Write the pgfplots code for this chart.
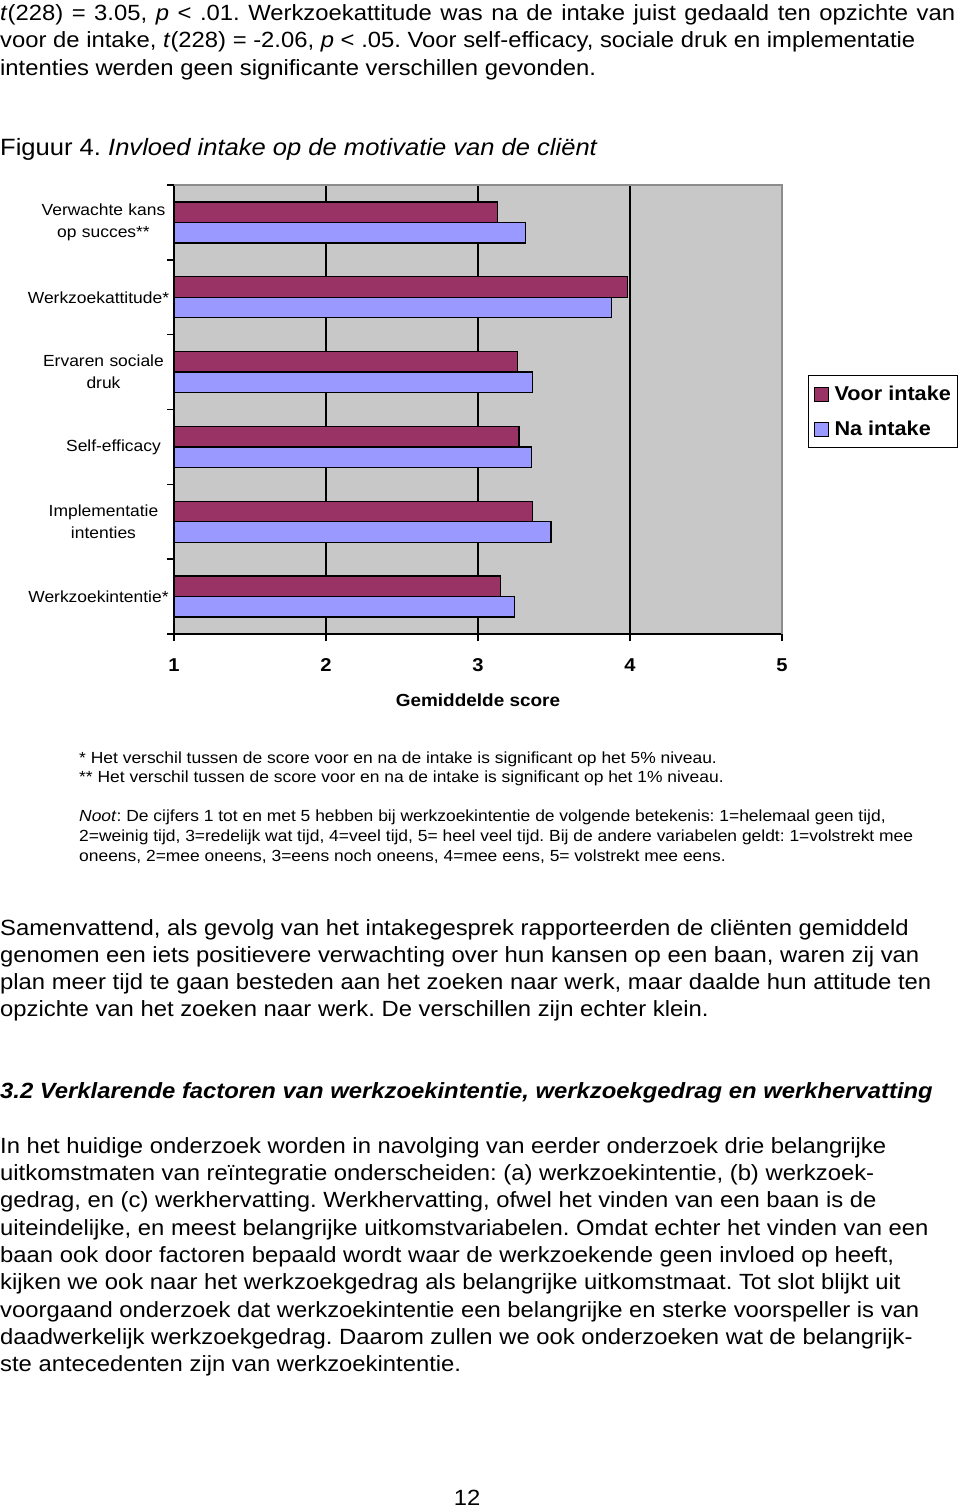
\documentclass[border=0pt]{standalone}
\usepackage{fontspec}
\setmainfont{Liberation Sans}[FakeStretch=1.083]
\usepackage{pgfplots}
\pgfplotsset{compat=1.18}
\definecolor{voor}{HTML}{993366}
\definecolor{na}{HTML}{9999FF}
\definecolor{plotbg}{HTML}{C8C8C8}
\definecolor{bordergray}{HTML}{8C8C8C}
\newcommand\body{\fontsize{22}{27.5}\selectfont}
\newcommand\notesize{\fontsize{16.1}{20}\selectfont}
\frenchspacing
\begin{document}
\frenchspacing
\begin{tikzpicture}
\useasboundingbox (0pt,0pt) rectangle (960pt,-1509pt);
\fill[white] (0pt,0pt) rectangle (960pt,-1509pt);
\begin{scope}[every node/.style={anchor=base west, inner sep=0pt}]
\node at (0pt,-20.5pt) {\body\makebox[955pt][s]{\textit{t}(228) = 3.05, \textit{p} < .01. Werkzoekattitude was na de intake juist gedaald ten opzichte van}};
\node at (0pt,-48pt) {\body voor de intake, \textit{t}(228) = -2.06, \textit{p} < .05. Voor self-efficacy, sociale druk en implementatie};
\node at (0pt,-75.5pt) {\body intenties werden geen significante verschillen gevonden.};
\node at (0pt,-155.5pt) {\fontsize{23.6}{28}\selectfont Figuur 4. \textit{Invloed intake op de motivatie van de cliënt}};
\node at (79pt,-763pt) {\notesize * Het verschil tussen de score voor en na de intake is significant op het 5\% niveau.};
\node at (79pt,-782pt) {\notesize ** Het verschil tussen de score voor en na de intake is significant op het 1\% niveau.};
\node at (79pt,-821pt) {\notesize \textit{Noot}: De cijfers 1 tot en met 5 hebben bij werkzoekintentie de volgende betekenis: 1=helemaal geen tijd,};
\node at (79pt,-841pt) {\notesize 2=weinig tijd, 3=redelijk wat tijd, 4=veel tijd, 5= heel veel tijd. Bij de andere variabelen geldt: 1=volstrekt mee};
\node at (79pt,-861pt) {\notesize oneens, 2=mee oneens, 3=eens noch oneens, 4=mee eens, 5= volstrekt mee eens.};
\node at (0pt,-935pt) {\body Samenvattend, als gevolg van het intakegesprek rapporteerden de cliënten gemiddeld};
\node at (0pt,-962pt) {\body genomen een iets positievere verwachting over hun kansen op een baan, waren zij van};
\node at (0pt,-989pt) {\body plan meer tijd te gaan besteden aan het zoeken naar werk, maar daalde hun attitude ten};
\node at (0pt,-1016pt) {\body opzichte van het zoeken naar werk. De verschillen zijn echter klein.};
\node at (0pt,-1098pt) {\body\bfseries\itshape 3.2 Verklarende factoren van werkzoekintentie, werkzoekgedrag en werkhervatting};
\node at (0pt,-1153pt) {\body In het huidige onderzoek worden in navolging van eerder onderzoek drie belangrijke};
\node at (0pt,-1180pt) {\body uitkomstmaten van reïntegratie onderscheiden: (a) werkzoekintentie, (b) werkzoek-};
\node at (0pt,-1207pt) {\body gedrag, en (c) werkhervatting. Werkhervatting, ofwel het vinden van een baan is de};
\node at (0pt,-1235pt) {\body uiteindelijke, en meest belangrijke uitkomstvariabelen. Omdat echter het vinden van een};
\node at (0pt,-1262pt) {\body baan ook door factoren bepaald wordt waar de werkzoekende geen invloed op heeft,};
\node at (0pt,-1289pt) {\body kijken we ook naar het werkzoekgedrag als belangrijke uitkomstmaat. Tot slot blijkt uit};
\node at (0pt,-1317pt) {\body voorgaand onderzoek dat werkzoekintentie een belangrijke en sterke voorspeller is van};
\node at (0pt,-1344pt) {\body daadwerkelijk werkzoekgedrag. Daarom zullen we ook onderzoeken wat de belangrijk-};
\node at (0pt,-1371pt) {\body ste antecedenten zijn van werkzoekintentie.};
\node[anchor=base] at (467pt,-1505pt) {\body 12};
\end{scope}
\begin{axis}[
  name=ax,
  at={(174pt,-185pt)}, anchor=north west,
  scale only axis, width=608pt, height=449pt,
  xbar, bar width=20.5pt,
  xmin=1, xmax=5, ymin=0.5, ymax=6.5,
  axis x line*=bottom, axis y line*=left,
  axis line style={black, line width=1.5pt},
  axis background/.style={fill=plotbg},
  xtick={1,2,3,4,5},
  extra x ticks={2,3,4}, extra x tick labels={},
  extra x tick style={grid=major},
  major grid style={black, line width=1.5pt},
  ytick={0.5,1.5,2.5,3.5,4.5,5.5,6.5}, yticklabels={{},{},{},{},{},{},{}},
  extra y ticks={1,2,3,4,5,6},
  extra y tick labels={\hspace*{-10pt}Werkzoekintentie*, {Implementatie\\intenties}, \hspace*{20pt}Self-efficacy, {Ervaren sociale\\druk}, \hspace*{-10pt}Werkzoekattitude*, {Verwachte kans\\op succes**}},
  extra y tick style={major tick length=0pt},
  tick align=outside, major tick length=7pt,
  tick style={black, line width=1.5pt},
  /pgf/number format/assume math mode=true,
  xticklabel style={font=\bfseries\fontsize{18.6}{20}\selectfont, yshift=-14pt},
  yticklabel style={font=\fontsize{16.1}{22}\selectfont, align=center, text width=146pt, xshift=6pt},
  xlabel={Gemiddelde score},
  xlabel style={font=\bfseries\fontsize{17.5}{20}\selectfont, yshift=-1pt},
  legend style={at={(axis description cs:1.0428,0.5768)}, anchor=north west, draw=black, line width=1pt, fill=white,
    font=\bfseries\fontsize{20}{22}\selectfont, inner xsep=5pt, inner ysep=8.5pt, row sep=15pt,
    /tikz/every odd column/.append style={column sep=4pt}},
  legend cell align=left,
  legend image code/.code={\draw[#1, line width=1pt] (0pt,-7pt) rectangle (14pt,7pt);},
]
\addplot[fill=voor, draw=black, line width=1.2pt, bar shift=10.25pt] coordinates {(3.13,6) (3.985,5) (3.26,4) (3.27,3) (3.36,2) (3.15,1)};
\addplot[fill=na, draw=black, line width=1.2pt, bar shift=-10.25pt] coordinates {(3.31,6) (3.88,5) (3.36,4) (3.35,3) (3.48,2) (3.24,1)};
\legend{Voor intake, Na intake}
\end{axis}
\draw[bordergray, line width=1.2pt] (ax.north west) -- (ax.north east) -- (ax.south east);
\end{tikzpicture}
\end{document}
